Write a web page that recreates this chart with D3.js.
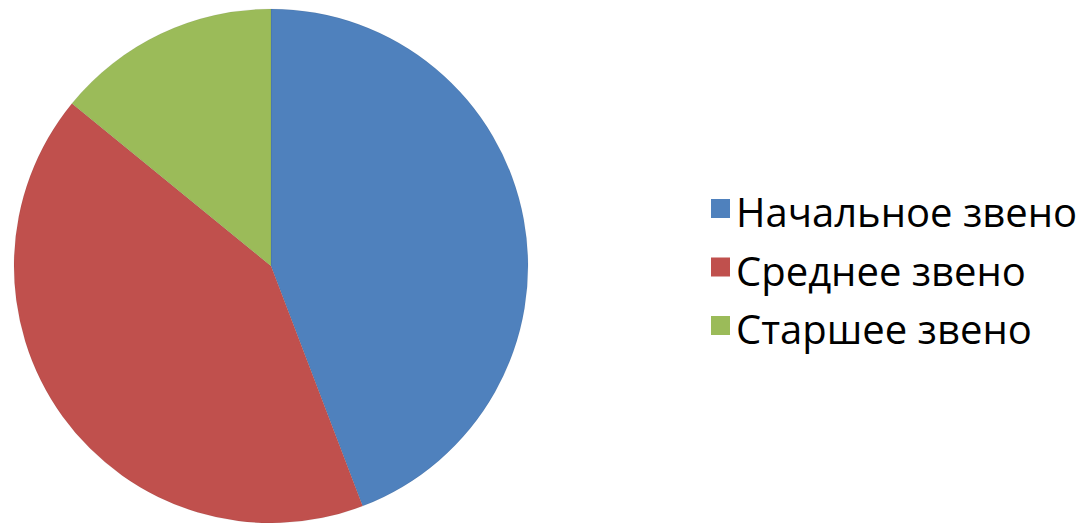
<!DOCTYPE html>
<html>
<head>
<meta charset="utf-8">
<script src="https://cdn.jsdelivr.net/npm/d3@7"></script>
<style>
  body { margin: 0; background: #fff; }
  text { font-family: "Open Sans", "Noto Sans", sans-serif; }
</style>
</head>
<body>
<svg id="chart" width="1088" height="523"></svg>
<script>
// levels and their shares
var categories = ["Начальное звено", "Среднее звено", "Старшее звено"];
var values = [44.2, 41.7, 14.1];
var colors = ["#4F81BD", "#C0504D", "#9BBB59"];

var data = categories.map(function(c, i) { return {label: c, value: values[i]}; });

var svg = d3.select("#chart"),
    cx = 271, cy = 266, radius = 257;

var color = d3.scaleOrdinal().domain(categories).range(colors);

var pie = d3.pie().sort(null).value(function(d) { return d.value; });
var arc = d3.arc().innerRadius(0).outerRadius(radius);

var g = svg.append("g")
    .attr("transform", "translate(" + cx + "," + cy + ")");

g.selectAll(".slice")
    .data(pie(data))
  .enter().append("path")
    .attr("class", "slice")
    .attr("d", arc)
    .attr("fill", function(d) { return color(d.data.label); })
    .attr("stroke", "rgba(0,0,0,0.12)")
    .attr("stroke-width", 0.5);

// legend
var legend = svg.append("g")
    .attr("transform", "translate(711,199)");

var item = legend.selectAll(".item")
    .data(data)
  .enter().append("g")
    .attr("class", "item")
    .attr("transform", function(d, i) { return "translate(0," + (i * 58.5) + ")"; });

item.append("rect")
    .attr("width", 19)
    .attr("height", 19)
    .attr("fill", function(d) { return color(d.label); });

item.append("text")
    .attr("x", 25)
    .attr("y", 28)
    .attr("font-size", 40)
    .attr("fill", "#000")
    .text(function(d) { return d.label; });
</script>
</body>
</html>
